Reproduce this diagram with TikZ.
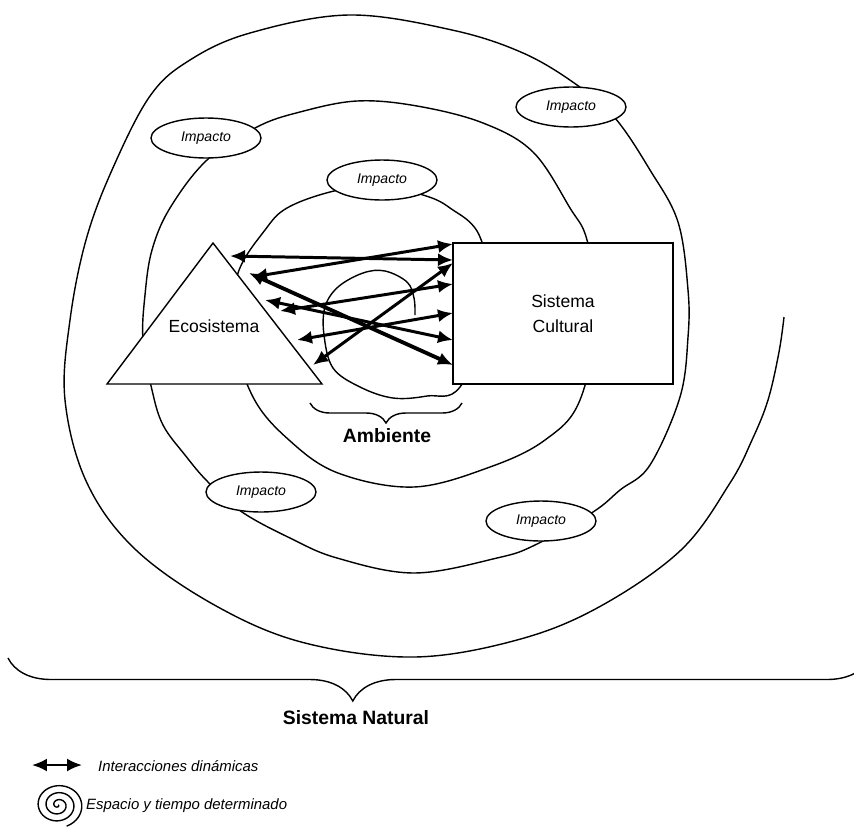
\documentclass[tikz,border=0pt]{standalone}
\usepackage{fontspec}
\setmainfont{Liberation Sans}
\usetikzlibrary{arrows.meta, shapes.geometric, decorations.pathreplacing, calc}

\begin{document}
\begin{tikzpicture}[
  x=0.02cm, y=-0.02cm,
  every node/.style={font=\fontsize{10}{14}\selectfont},
  spiralline/.style={line width=0.8pt, line join=round},
  impactnode/.style={ellipse, draw, line width=0.8pt, fill=white, minimum width=2.2cm, minimum height=0.8cm, inner sep=0pt, font=\fontsize{8}{9}\selectfont\itshape},
  sysbox/.style={rectangle, draw, line width=0.9pt, fill=white, minimum width=4.4cm, minimum height=2.82cm, align=center},
  interarrow/.style={{Latex[length=3mm,width=2.6mm]}-{Latex[length=3mm,width=2.6mm]}, line width=1.7pt},
  bracelabel/.style={font=\fontsize{11}{13}\selectfont\bfseries},
  legendtext/.style={anchor=west, font=\fontsize{8.5}{10}\selectfont\itshape},
]
\useasboundingbox (0,0) rectangle (854,829);

\draw[spiralline] plot[smooth, tension=0.6] coordinates {(784,317) (779,352) (768,400) (752,440) (730,483) (681,550) (599,607) (517,640) (414,657) (305,643) (218,607) (136,550) (87,483) (65,400) (70,320) (86,240) (112,170) (150,96) (190,60) (250,33) (349,15) (452,30) (523,53) (577,85) (615,118) (650,170) (678,222) (688,290) (688,337) (680,397) (650,465) (620,490) (593,512) (535,545) (497,558) (414,573) (337,558) (290,538) (242,512) (208,482) (185,455) (163,425) (152,390) (143,340) (145,295) (152,250) (170,208) (207,160) (257,127) (300,112) (357,101) (417,106) (483,123) (533,152) (570,208) (587,240) (598,310) (580,400) (545,440) (490,467) (414,487) (338,473) (289,440) (253,397) (232,330) (238,273) (265,230) (287,208) (330,192) (376,185) (423,195) (450,208) (480,237) (492,310) (460,387) (427,396) (393,398) (360,387) (333,368) (324,335) (325,307) (338,287) (363,273) (385,271) (407,282) (414,298) (415,315)};

\coordinate (tA) at (213,243);
\coordinate (tR) at (322,384);
\coordinate (tL) at (107,384);
\draw[line width=0.8pt, fill=white] (tA) -- (tR) -- (tL) -- cycle;
\node (eco) at (214,326) {Ecosistema};

\node[sysbox] (cult) at (563,313.5) {Sistema\\Cultural};

\node[impactnode] (impTL) at (206,138) {Impacto};
\node[impactnode] (impTM) at (382,180) {Impacto};
\node[impactnode] (impTR) at (571,107) {Impacto};
\node[impactnode] (impLL) at (261,492) {Impacto};
\node[impactnode] (impLR) at (541,521) {Impacto};

\coordinate (e1) at (230,256);
\coordinate (e2) at (252,277);
\coordinate (e3) at (249,273);
\coordinate (e4) at (265,300);
\coordinate (e5) at (280,311);
\coordinate (e6) at (297,340);
\coordinate (e7) at (313,365);
\coordinate (c1) at (453,260);
\coordinate (c2) at (453,244);
\coordinate (c3) at (453,365);
\coordinate (c4) at (453,340);
\coordinate (c5) at (453,284);
\coordinate (c6) at (453,313);
\coordinate (c7) at (453,263);
\draw[interarrow] (e1) -- (c1);
\draw[interarrow] (e2) -- (c2);
\draw[interarrow, line width=2.2pt] (e3) -- (c3);
\draw[interarrow] (e4) -- (c4);
\draw[interarrow] (e5) -- (c5);
\draw[interarrow] (e6) -- (c6);
\draw[interarrow] (e7) -- (c7);

\draw[line width=0.8pt, decorate, decoration={brace, amplitude=0.4cm}] (462,403) -- (310,403);
\node[bracelabel] (amb) at (387,436) {Ambiente};

\draw[line width=0.8pt, decorate, decoration={brace, amplitude=0.86cm, aspect=0.6}] (870,658) -- (8,658);
\node[bracelabel] (nat) at (356,718) {Sistema Natural};

\coordinate (la1) at (32,765);
\coordinate (la2) at (82,765);
\draw[interarrow, line width=1.3pt] (la1) -- (la2);
\node[legendtext] (leg1) at (92,766) {Interacciones dinámicas};
\draw[spiralline] plot[variable=\t, domain=0:1150, samples=220, smooth] ({58+0.022*\t*cos(\t)}, {805+0.0195*\t*sin(\t)});
\node[legendtext] (leg2) at (80,806) {Espacio y tiempo determinado};
\end{tikzpicture}
\end{document}
